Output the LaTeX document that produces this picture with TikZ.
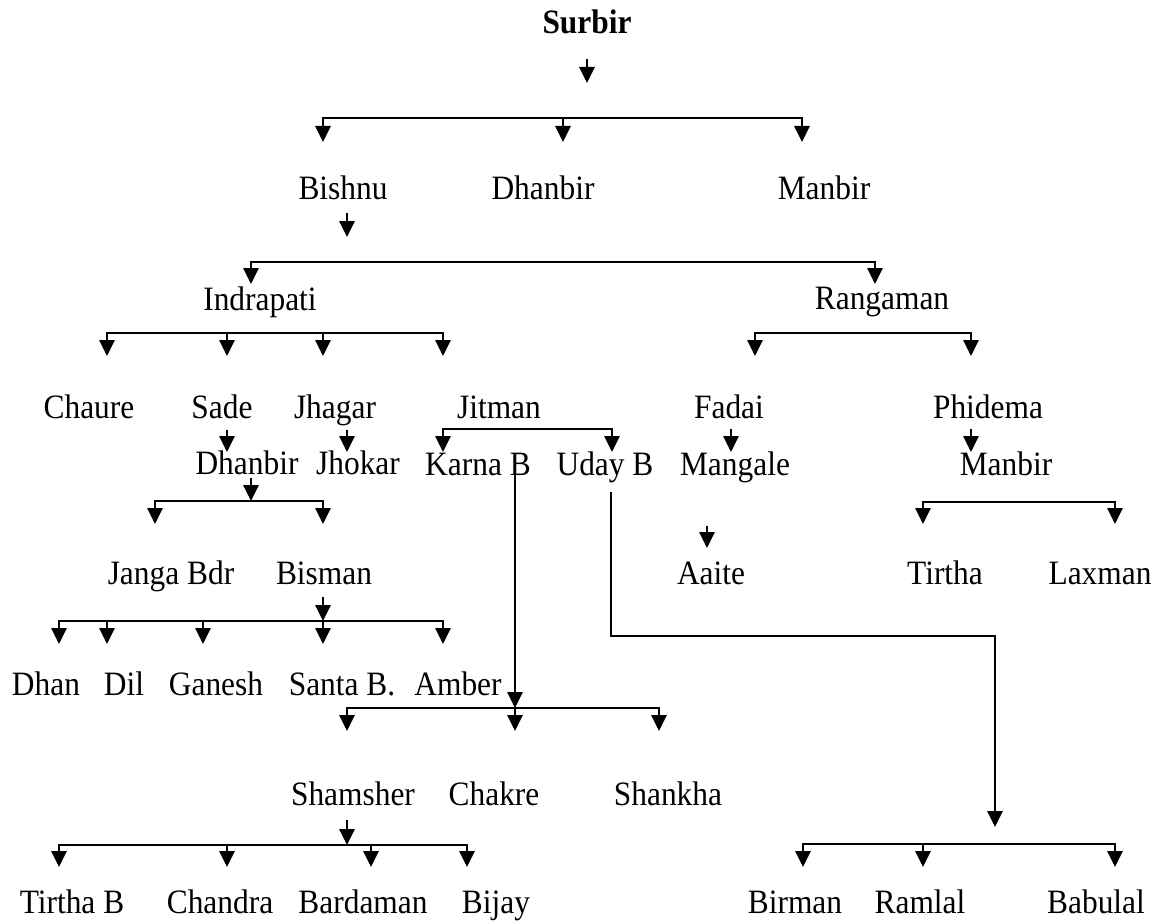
\documentclass[tikz,border=0pt]{standalone}
\usepackage{fontspec}
\setmainfont{Liberation Serif}[FakeStretch=0.92]
\usetikzlibrary{arrows.meta}

% a single downward arrow: name, x, start y, tip y
\newcommand\kinarrow[4]{%
  \coordinate (#1-from) at (#2,#3);
  \coordinate (#1-to) at (#2,#4);
  \draw[drop] (#1-from) -- (#1-to);}

% a sibling bar with arrows hanging from it: name, bar y, tip y, x list
\newcommand\kinbar[4]{%
  \foreach \x [count=\i] in {#4}{%
    \coordinate (#1-\i) at (\x,#2);
    \coordinate (#1-\i-tip) at (\x,#3);
    \draw[drop] (#1-\i) -- (#1-\i-tip);
    \ifnum\i>1
      \pgfmathtruncatemacro\prev{\i-1}
      \draw[bar] (#1-\prev) -- (#1-\i);
    \fi
  }}

\begin{document}
\begin{tikzpicture}[x=0.75pt,y=-0.75pt,
  person/.style={anchor=base,inner sep=0pt,font=\fontsize{25.6pt}{30pt}\selectfont},
  head/.style={person,font=\fontsize{25.6pt}{30pt}\selectfont\bfseries},
  link/.style={line width=1.25pt},
  drop/.style={link,-{Triangle[length=12pt,width=11.5pt]}},
  bar/.style={link,line cap=rect}]
\useasboundingbox (0,0) rectangle (1161,924);

% generation 1
\node[head] (surbir) at (587,34) {Surbir};
\kinarrow{surbir}{587}{59}{83}
\kinbar{sons1}{118}{142}{323,563,802}

% generation 2
\node[person] (bishnu)   at (343,199) {Bishnu};
\node[person] (dhanbirA) at (543,199) {Dhanbir};
\node[person] (manbirA)  at (824,199) {Manbir};
\kinarrow{bishnu}{347}{213}{237}
\kinbar{sons2}{262}{284}{251,875}

% generation 3
\node[person] (indrapati) at (260,310) {Indrapati};
\node[person] (rangaman)  at (882,309) {Rangaman};
\kinbar{sons3}{333}{356}{107,227,323,443}
\kinbar{sons4}{333}{356}{755,971}

% generation 4
\node[person] (chaure)  at (89,418)  {Chaure};
\node[person] (sade)    at (222,418) {Sade};
\node[person] (jhagar)  at (335,418) {Jhagar};
\node[person] (jitman)  at (499,418) {Jitman};
\node[person] (fadai)   at (729,418) {Fadai};
\node[person] (phidema) at (988,418) {Phidema};
\kinarrow{sade}{227}{430}{452}
\kinarrow{jhagar}{347}{430}{452}
\kinarrow{fadai}{731}{429}{452}
\kinarrow{phidema}{971}{429}{452}
\kinbar{sons5}{429}{452}{443,612}

% generation 5
\node[person] (dhanbirB) at (247,474)  {Dhanbir};
\node[person] (jhokar)   at (358,474)  {Jhokar};
\node[person] (karna)    at (478,475)  {Karna B};
\node[person] (uday)     at (605,475)  {Uday B};
\node[person] (mangale)  at (735,475)  {Mangale};
\node[person] (manbirB)  at (1006,475) {Manbir};
\kinarrow{dhanbirB}{251}{478}{501}
\kinbar{sons6}{501}{524}{155,323}
\kinbar{sons7}{502}{524}{923,1115}
\kinarrow{mangale}{707}{526}{548}

% generation 6
\node[person] (janga)  at (171,584)  {Janga Bdr};
\node[person] (bisman) at (324,584)  {Bisman};
\node[person] (aaite)  at (711,584)  {Aaite};
\node[person] (tirtha) at (945,584)  {Tirtha};
\node[person] (laxman) at (1100,584) {Laxman};
\kinarrow{bisman}{323}{597}{621}
\kinbar{sons8}{621}{644}{59,107,203,323,443}

% generation 7
\node[person] (dhan)   at (46,695)  {Dhan};
\node[person] (dil)    at (124,695) {Dil};
\node[person] (ganesh) at (216,695) {Ganesh};
\node[person] (santa)  at (342,695) {Santa B.};
\node[person] (amber)  at (458,695) {Amber};

% Karna B's line down to his sons
\kinarrow{karna}{515}{475}{708}
\kinbar{sons9}{708}{731}{347,515,659}

\node[person] (shamsher) at (353,805) {Shamsher};
\node[person] (chakre)   at (494,805) {Chakre};
\node[person] (shankha)  at (668,805) {Shankha};
\kinarrow{shamsher}{347}{820}{845}
\kinbar{sons10}{845}{867}{59,227,371,467}

% Uday B's line across to his sons
\coordinate (uday-from) at (611,492);
\coordinate (uday-turn) at (995,636);
\coordinate (uday-to)   at (995,827);
\draw[drop] (uday-from) |- (uday-turn) -- (uday-to);
\kinbar{sons11}{844}{867}{803,923,1115}

% generation 8
\node[person] (tirthaB)  at (72,913)   {Tirtha B};
\node[person] (chandra)  at (220,913)  {Chandra};
\node[person] (bardaman) at (363,913)  {Bardaman};
\node[person] (bijay)    at (496,913)  {Bijay};
\node[person] (birman)   at (795,913)  {Birman};
\node[person] (ramlal)   at (920,913)  {Ramlal};
\node[person] (babulal)  at (1096,913) {Babulal};
\end{tikzpicture}
\end{document}
